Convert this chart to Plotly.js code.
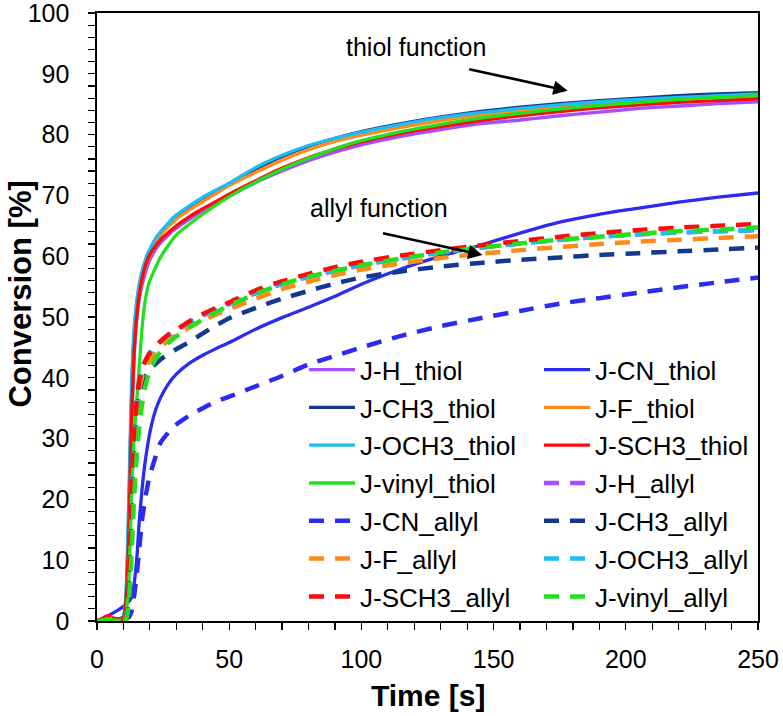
<!DOCTYPE html>
<html>
<head>
<meta charset="utf-8">
<script src="https://cdn.plot.ly/plotly-3.0.1.min.js"></script>
<style>html,body{margin:0;padding:0;background:#fff;}#chart{width:783px;height:716px;}</style>
</head>
<body>
<div id="chart"></div>
<script>
// Time axis [s]
const time = [0,2,4,6,8,10,11,12,13,14,15,16,17,18,19,20,22,24,27,30,35,40,45,50,60,70,80,90,100,115,130,145,160,175,190,205,220,235,250];

// Thiol conversion [%]
const H_thiol     = [0,0.3,0.6,0.4,0.3,0.6,3,13,30,43,49.5,53,55.2,56.8,58.3,59.4,61,62.2,63.5,64.6,66.1,67.5,68.8,69.9,72.1,74,75.7,77.1,78.3,79.7,80.8,81.8,82.4,83.1,83.7,84.3,84.7,85.1,85.4];
const CN_thiol    = [0,0.3,0.8,1.3,1.8,2.4,2.8,3.2,3.8,6,10,16.5,21.5,25.5,28.5,31,34.5,36.7,39,40.6,42.4,43.7,44.8,45.8,48,49.9,51.6,53.4,55.4,57.9,60,61.8,63.8,65.6,66.9,67.9,68.9,69.7,70.4];
const CH3_thiol   = [0,0.2,0.4,0.3,0.3,0.7,4,17,36,47,52,55,57,58.6,59.8,60.8,62.4,63.7,65.2,66.5,68.1,69.5,70.8,71.9,74.3,76.4,78.1,79.4,80.5,81.8,82.9,83.8,84.5,85.1,85.6,86,86.4,86.7,86.9];
const F_thiol     = [0,0.2,0.5,0.4,0.3,0.6,3,15,33,45,50.5,54,56,57.8,59,60,61.9,63.4,64.9,66.1,67.6,69,70.3,71.6,73.8,75.8,77.5,78.9,79.9,81.2,82.3,83.2,83.9,84.6,85.1,85.6,85.9,86.2,86.4];
const OCH3_thiol  = [0,0.3,0.5,0.3,0.3,0.8,5,20,38,48,52.5,55.5,57.5,59,60.3,61.2,62.8,64,65.5,66.8,68.3,69.7,70.9,72,74.6,76.6,78.2,79.4,80.4,81.7,82.8,83.6,84.3,84.9,85.4,85.8,86.1,86.4,86.7];
const SCH3_thiol  = [0,0.3,0.7,0.5,0.3,0.6,3.5,14,32,44,50,53.8,56.2,58,59.3,60.3,61.6,62.7,63.9,65,66.5,67.8,69,70.2,72.4,74.5,76.2,77.6,78.8,80.2,81.3,82.3,83.1,83.8,84.4,84.9,85.3,85.6,85.9];
const vinyl_thiol = [0,0.1,0.3,0.2,0.1,0.3,1.5,6,20,30,36,42,48,52,54.5,56,58,59.8,61.8,63.5,65.3,66.9,68.4,69.8,72.2,74.3,76.1,77.7,79,80.5,81.7,82.7,83.5,84.2,84.8,85.3,85.8,86.1,86.4];

// Allyl conversion [%]
const H_allyl     = [0,0.2,0.6,0.5,0.2,0.2,0.5,5,19,30,35.5,39,41,42.3,43.2,43.9,45,45.9,47,47.8,49.1,50.2,51.2,52.1,53.9,55.4,56.6,57.6,58.5,59.6,60.6,61.4,62.1,62.7,63.2,63.6,63.9,64.1,64.3];
const CN_allyl    = [0,0,0.3,0.2,0.2,0.3,0.4,0.6,1.5,4,7.5,12,16.5,19.5,22,24,26.8,29.3,31,32.3,33.8,35,36.1,36.9,38.6,40.3,42.2,43.6,45,46.9,48.5,49.8,51,52.2,53.1,54,54.9,55.7,56.5];
const CH3_allyl   = [0,0.1,0.3,0.2,0.1,0.2,0.5,6,18,29,34,37.5,39,40,40.8,41.4,42.2,43,43.9,44.7,45.9,47.3,48.6,49.8,51.5,53,54.3,55.5,56.5,57.5,58.3,58.9,59.4,59.8,60.2,60.5,60.8,61.1,61.4];
const F_allyl     = [0,0.2,0.5,0.4,0.2,0.2,0.4,5,18,29,34.5,38,40,41.3,42.2,42.9,44,45,46.1,47,48.3,49.4,50.4,51.3,53,54.6,55.8,56.9,57.8,58.8,59.7,60.4,61,61.5,62,62.4,62.7,63,63.3];
const OCH3_allyl  = [0,0.2,0.6,0.5,0.2,0.2,0.5,6,20,31,36,39.5,41.3,42.5,43.4,44.1,45.2,46,47,47.9,49.2,50.3,51.3,52.2,54,55.5,56.7,57.7,58.6,59.7,60.6,61.4,62.1,62.7,63.2,63.6,63.9,64.1,64.3];
const SCH3_allyl  = [0,0.3,0.8,0.6,0.2,0.2,0.5,6,20,31,36,39.5,41.3,42.5,43.4,44.1,45.1,46,47.1,47.9,49.3,50.5,51.5,52.4,54.4,55.9,57.1,58.2,59.1,60.1,61,61.8,62.5,63.2,63.8,64.3,64.7,65,65.3];
const vinyl_allyl = [0,0.1,0.3,0.2,0.1,0.1,0.3,3,10,20,27,32,35.5,38,39.8,41.2,43,44.3,45.7,46.8,48.3,49.6,50.8,51.9,53.8,55.4,56.6,57.6,58.5,59.6,60.6,61.4,62.1,62.7,63.2,63.7,64.1,64.4,64.7];

const seriesNames = ["J-H_thiol","J-CN_thiol","J-CH3_thiol","J-F_thiol","J-OCH3_thiol","J-SCH3_thiol","J-vinyl_thiol",
                     "J-H_allyl","J-CN_allyl","J-CH3_allyl","J-F_allyl","J-OCH3_allyl","J-SCH3_allyl","J-vinyl_allyl"];
const seriesValues = [H_thiol,CN_thiol,CH3_thiol,F_thiol,OCH3_thiol,SCH3_thiol,vinyl_thiol,
                      H_allyl,CN_allyl,CH3_allyl,F_allyl,OCH3_allyl,SCH3_allyl,vinyl_allyl];
const colors = {H:"#A64DFF", CN:"#2B2BF2", CH3:"#13388F", F:"#FF8A1C", OCH3:"#1CBDF2", SCH3:"#FF0A0A", vinyl:"#22E01E"};

const FONT = "Liberation Sans, Arial, sans-serif";
const traces = seriesNames.map((name, i) => {
  const key = name.split("_")[0].replace("J-","");
  const isAllyl = name.endsWith("allyl");
  return {
    type: "scatter", mode: "lines", name: name,
    x: time, y: seriesValues[i],
    legend: (i % 2 === 0) ? "legend" : "legend2",
    legendgroup: "g" + i,
    line: {color: colors[key], width: isAllyl ? 4.5 : 3.3, dash: isAllyl ? "15px,11px" : "solid",
           shape: "spline", smoothing: 0.6},
    hoverinfo: "skip"
  };
});

const legendBase = {
  xanchor: "left", y: 0.452, yanchor: "top",
  bgcolor: "rgba(0,0,0,0)", borderwidth: 0,
  font: {family: FONT, size: 26, color: "#000"},
  itemwidth: 46,
  tracegroupgap: 1, traceorder: "grouped"
};

const layout = {
  width: 783, height: 716,
  margin: {l: 97, r: 25, t: 13, b: 95, autoexpand: false},
  paper_bgcolor: "#fff", plot_bgcolor: "#fff",
  font: {family: FONT, size: 25, color: "#000"},
  showlegend: true,
  legend: Object.assign({x: 0.3132}, legendBase),
  legend2: Object.assign({x: 0.6687}, legendBase),
  xaxis: {
    range: [0, 250], dtick: 50, tick0: 0,
    ticks: "outside", ticklen: 7, tickwidth: 1.2, tickcolor: "#000",
    minor: {dtick: 10, ticks: "outside", ticklen: 7, tickwidth: 1.2, tickcolor: "#000", showgrid: false},
    showline: true, linecolor: "#000", linewidth: 1.6, mirror: true,
    showgrid: false, zeroline: false,
    tickfont: {family: FONT, size: 25, color: "#000"},
    ticklabelstandoff: 8, ticklabeloverflow: "allow"
  },
  yaxis: {
    range: [0, 100], dtick: 10, tick0: 0,
    ticks: "outside", ticklen: 7, tickwidth: 1.2, tickcolor: "#000",
    minor: {dtick: 2, ticks: "outside", ticklen: 7, tickwidth: 1.2, tickcolor: "#000", showgrid: false},
    showline: true, linecolor: "#000", linewidth: 1.6, mirror: true,
    showgrid: false, zeroline: false,
    tickfont: {family: FONT, size: 25, color: "#000"},
    ticklabelstandoff: 14, ticklabeloverflow: "allow"
  },
  annotations: [
    {xref: "paper", yref: "paper", x: 0.5, y: -0.122, xanchor: "center", yanchor: "middle",
     text: "<b>Time [s]</b>", showarrow: false, font: {family: FONT, size: 30, color: "#000"}},
    {xref: "paper", yref: "paper", x: -0.1155, y: 0.538, xanchor: "center", yanchor: "middle",
     text: "<b>Conversion [%]</b>", textangle: -90, showarrow: false, font: {family: FONT, size: 31, color: "#000"}},
    {xref: "x", yref: "y", x: 120.5, y: 94.4, text: "thiol function", showarrow: false,
     font: {family: FONT, size: 25, color: "#000"}},
    {xref: "x", yref: "y", x: 178, y: 87.2, ax: -100, ay: -22, text: "", showarrow: true,
     arrowhead: 2, arrowsize: 1.1, arrowwidth: 2.6, arrowcolor: "#000"},
    {xref: "x", yref: "y", x: 106.7, y: 67.9, text: "allyl function", showarrow: false,
     font: {family: FONT, size: 25, color: "#000"}},
    {xref: "x", yref: "y", x: 145.8, y: 60.2, ax: -101, ay: -22, text: "", showarrow: true,
     arrowhead: 2, arrowsize: 1.1, arrowwidth: 2.6, arrowcolor: "#000"}
  ]
};

Plotly.newPlot("chart", traces, layout, {displayModeBar: false, staticPlot: true});
</script>
</body>
</html>
